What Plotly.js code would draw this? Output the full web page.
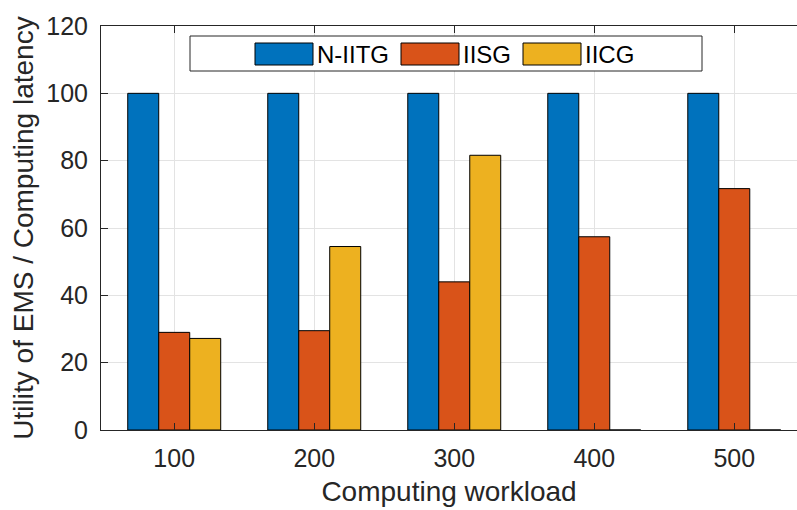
<!DOCTYPE html>
<html>
<head>
<meta charset="utf-8">
<script src="https://cdn.plot.ly/plotly-3.0.1.min.js"></script>
<style>html,body{margin:0;padding:0;background:#fff;}#chart{width:797px;height:510px;}</style>
</head>
<body>
<div id="chart"></div>
<script>
// ---- data ----
var workloads = [100, 200, 300, 400, 500];
var seriesNames = ['N-IITG', 'IISG', 'IICG'];
var nIITG = [100, 100, 100, 100, 100];
var iISG = [29.0, 29.5, 44.0, 57.4, 71.7];
var iICG = [27.2, 54.5, 81.6, 0, 0];
var yTicks = [0, 20, 40, 60, 80, 100, 120];

// ---- style ----
var colors = ['#0072BD', '#D95319', '#EDB120'];
var fontFam = '"Liberation Sans", Arial, Helvetica, sans-serif';
var txt = '#262626';
var W = 797, H = 510, ML = 101, MR = 0, MT = 26, MB = 80;
var PW = W - ML - MR, PH = H - MT - MB;
function px2x(px) { return (px - ML) / PW; }
function px2y(py) { return (H - MB - py) / PH; }

var seriesVals = [nIITG, iISG, iICG];
var traces = seriesVals.map(function (vals, i) {
  return {
    type: 'bar', x: workloads, y: vals, name: seriesNames[i],
    marker: { color: colors[i], line: { color: '#000000', width: 1 } },
    showlegend: false, hoverinfo: 'x+y+name'
  };
});

// custom MATLAB-like legend
var legBox = { x0: 190, x1: 702, y0: 36, y1: 71 };
var legItems = [
  { sx0: 255, sx1: 313, tx: 315 },
  { sx0: 401, sx1: 459, tx: 461 },
  { sx0: 523, sx1: 581, tx: 583 }
];
var shapes = [{
  type: 'rect', xref: 'paper', yref: 'paper',
  x0: px2x(legBox.x0), x1: px2x(legBox.x1), y0: px2y(legBox.y1), y1: px2y(legBox.y0),
  line: { color: txt, width: 1 }, fillcolor: '#ffffff', layer: 'above'
}];
var annotations = [];
legItems.forEach(function (it, i) {
  shapes.push({
    type: 'rect', xref: 'paper', yref: 'paper',
    x0: px2x(it.sx0), x1: px2x(it.sx1), y0: px2y(65), y1: px2y(43),
    line: { color: '#000000', width: 1 }, fillcolor: colors[i], layer: 'above'
  });
  annotations.push({
    xref: 'paper', yref: 'paper', x: px2x(it.tx), y: px2y(54.5),
    xanchor: 'left', yanchor: 'middle', showarrow: false,
    text: seriesNames[i], font: { family: fontFam, size: 24, color: '#000000' }
  });
});

var layout = {
  width: W, height: H,
  margin: { l: ML, r: MR, t: MT, b: MB, pad: 0 },
  paper_bgcolor: '#ffffff', plot_bgcolor: '#ffffff',
  font: { family: fontFam, color: txt },
  barmode: 'group', bargap: 0.336, bargroupgap: 0,
  showlegend: false,
  xaxis: {
    range: [47.7, 544.8], tickvals: workloads, ticktext: workloads.map(String),
    ticks: 'inside', ticklen: 7, tickcolor: txt, tickwidth: 1,
    showline: true, linecolor: txt, linewidth: 1, mirror: 'ticks',
    showgrid: true, gridcolor: '#e3e3e3', gridwidth: 1, zeroline: false,
    tickfont: { family: fontFam, size: 25, color: txt }, ticklabelstandoff: 6,
    title: { text: 'Computing workload', font: { family: fontFam, size: 28, color: txt }, standoff: 10 },
    automargin: false
  },
  yaxis: {
    range: [0, 120], tickvals: yTicks,
    ticks: 'inside', ticklen: 7, tickcolor: txt, tickwidth: 1,
    showline: true, linecolor: txt, linewidth: 1, mirror: false,
    showgrid: true, gridcolor: '#e3e3e3', gridwidth: 1, zeroline: false,
    tickfont: { family: fontFam, size: 25, color: txt }, ticklabelstandoff: 7,
    title: { text: 'Utility of EMS / Computing latency', font: { family: fontFam, size: 28, color: txt }, standoff: 4 },
    automargin: false
  },
  shapes: shapes,
  annotations: annotations
};

Plotly.newPlot('chart', traces, layout, { displayModeBar: false, staticPlot: true });
</script>
</body>
</html>
